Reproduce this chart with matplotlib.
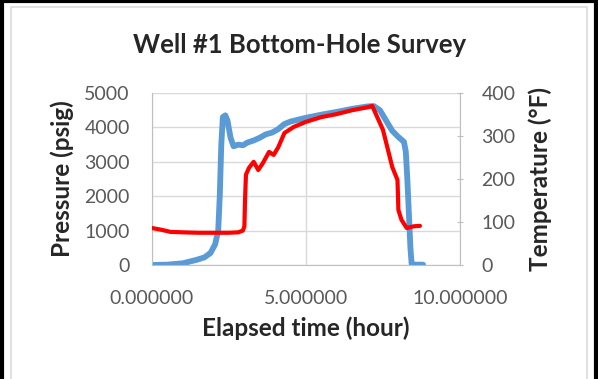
import matplotlib
matplotlib.use('Agg')
import matplotlib.pyplot as plt
from matplotlib.patches import Rectangle

plt.rcParams['font.family'] = ['Lato', 'DejaVu Sans']

# pressure survey (psig) vs elapsed time (hour)
p_time = [0.0, 0.5, 1.0, 1.45, 1.7, 1.9, 2.05, 2.15, 2.2, 2.25, 2.3, 2.38, 2.45, 2.55, 2.65,
          2.8, 2.95, 3.1, 3.3, 3.5, 3.7, 3.9, 4.1, 4.3, 4.5, 5.0, 5.5, 6.0, 6.5, 7.0, 7.2,
          7.4, 7.6, 7.8, 8.0, 8.18, 8.24, 8.29, 8.34, 8.39, 8.43, 8.5, 8.8]
pressure = [0, 10, 50, 150, 220, 350, 600, 1000, 2000, 3500, 4300, 4350, 4200, 3700, 3450,
            3500, 3480, 3560, 3620, 3700, 3800, 3850, 3950, 4100, 4170, 4280, 4370, 4450, 4540, 4610, 4620,
            4500, 4200, 3900, 3720, 3580, 3300, 2500, 1500, 500, 30, 10, 10]

# temperature survey (°F) vs elapsed time (hour)
t_time = [0.0, 0.3, 0.6, 1.0, 1.5, 2.0, 2.5, 2.8, 2.95, 3.0, 3.02, 3.05, 3.15, 3.3, 3.45,
          3.6, 3.8, 3.95, 4.1, 4.3, 4.6, 5.0, 5.5, 6.0, 6.5, 7.0, 7.15, 7.5, 7.8, 7.97,
          8.0, 8.1, 8.27, 8.5, 8.7]
temperature = [86, 82, 77, 76, 75, 75, 75, 76, 80, 90, 150, 210, 226, 240, 221,
               237, 263, 256, 274, 307, 321, 333, 344, 351, 360, 367, 370, 314, 228, 198,
               128, 105, 86, 90, 91]

x_ticks = [0, 5, 10]
x_labels = ['0.000000', '5.000000', '10.000000']
p_ticks = [0, 1000, 2000, 3000, 4000, 5000]
t_ticks = [0, 100, 200, 300, 400]

grey = '#595959'
axis_grey = '#bfbfbf'
grid_grey = '#d9d9d9'
dark = '#262626'

fig = plt.figure(figsize=(5.98, 3.79), dpi=100)
fig.patch.set_facecolor('white')

# black frame round the picture and light chart-area border
fig.add_artist(Rectangle((1.5 / 598, -0.05), (596 - 1.5) / 598, 1.05 - 1.5 / 379,
                         transform=fig.transFigure, fill=False, ec='black', lw=3, clip_on=False))
fig.add_artist(Rectangle((11 / 598, -0.05), (587 - 11) / 598, 1.05 - 7 / 379,
                         transform=fig.transFigure, fill=False, ec='#dcdcdc', lw=1.2, clip_on=False))

ax = fig.add_axes([152 / 598, 1 - 265 / 379, (460 - 152) / 598, (265 - 93) / 379])
ax.plot(p_time, pressure, c='#5b9bd5', lw=4.2, solid_capstyle='round', solid_joinstyle='round')
ax.set_xlim(0, 10)
ax.set_ylim(0, 5000)
ax.set_xticks(x_ticks)
ax.set_xticklabels(x_labels)
ax.set_yticks(p_ticks)
ax.grid(True, color=grid_grey, lw=1)
ax.set_axisbelow(True)
for key, spine in ax.spines.items():
    spine.set_visible(False)
ax.spines['left'].set_visible(True)
ax.spines['left'].set_color(axis_grey)
ax.spines['bottom'].set_visible(True)
ax.spines['bottom'].set_color(axis_grey)
ax.tick_params(length=0, labelsize=14, labelcolor=grey)
ax.tick_params(axis='y', pad=16)
ax.tick_params(axis='x', pad=18)
ax.set_xlabel('Elapsed time (hour)', fontsize=17.5, fontweight='bold', color=dark)
ax.set_ylabel('Pressure (psig)', fontsize=17.5, fontweight='bold', color=dark)
ax.xaxis.set_label_coords(0.5, -0.297)
ax.yaxis.set_label_coords(-0.253, 0.5)
fig.text(300 / 598, 1 - 45 / 379, 'Well #1 Bottom-Hole Survey', fontsize=18.5, fontweight='bold',
         color=dark, ha='center', va='center')

ax2 = ax.twinx()
ax2.plot(t_time, temperature, c='#ff0000', lw=3, solid_capstyle='round', solid_joinstyle='round')
ax2.set_ylim(0, 400)
ax2.set_yticks(t_ticks)
for key, spine in ax2.spines.items():
    spine.set_visible(False)
ax2.spines['right'].set_visible(True)
ax2.spines['right'].set_color(axis_grey)
ax2.tick_params(axis='y', direction='inout', length=5, color=axis_grey, labelsize=14, labelcolor=grey, pad=13)
ax2.set_ylabel('Temperature (°F)', fontsize=17.5, fontweight='bold', color=dark)
ax2.yaxis.set_label_coords(1.221, 0.5)

plt.savefig('out.png', dpi=100)
